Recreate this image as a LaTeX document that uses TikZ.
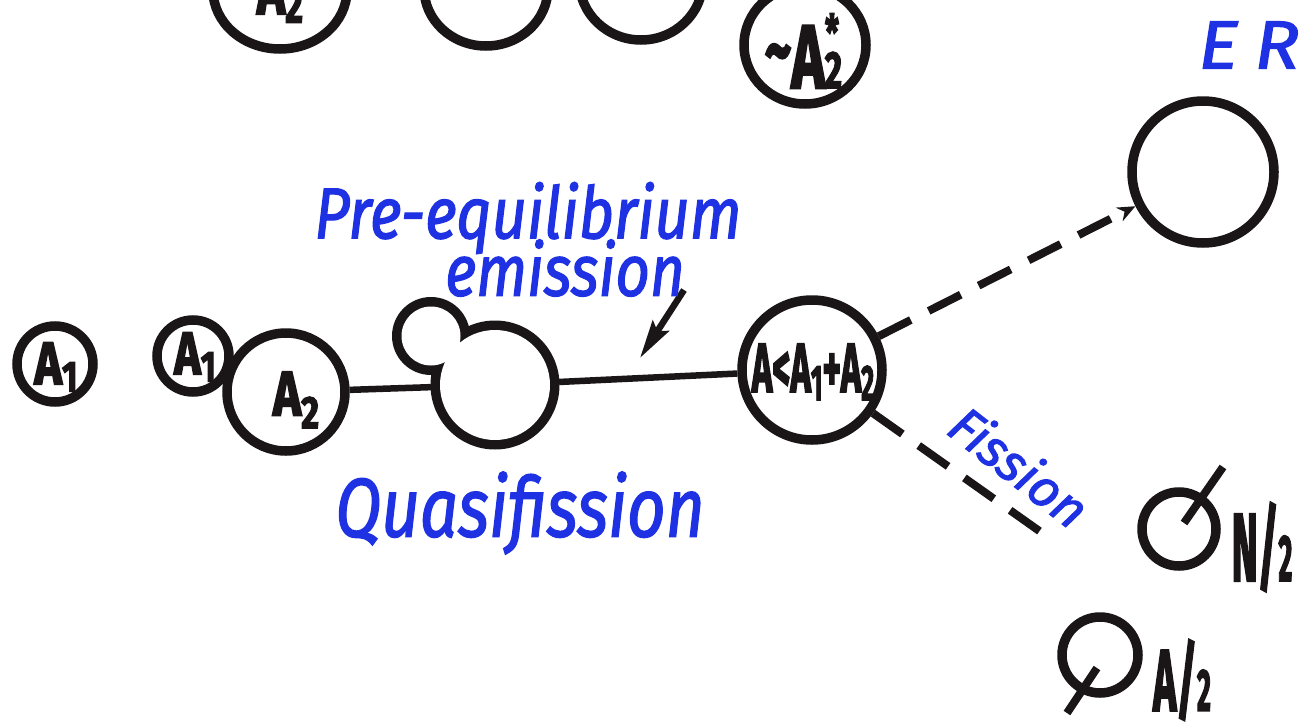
\documentclass[tikz,border=0pt]{standalone}
\usepackage{fontspec}
\usetikzlibrary{arrows.meta,calc,shapes.geometric}
\newfontfamily\inkfont{Fira Sans}[FakeBold=3]
\newfontfamily\penfont{Fira Sans}[FakeBold=1.8]
\definecolor{ink}{RGB}{26,22,24}
\definecolor{penblue}{RGB}{30,50,228}
% lowered, slightly smaller index as in hand lettering
\newcommand\lowix[1]{\raisebox{-0.12em}{\scalebox{0.72}{#1}}}
\newcommand\baseix[1]{\scalebox{0.68}{#1}}

\begin{document}
\begin{tikzpicture}[x=1pt,y=-1pt,
  nucleus/.style={circle,draw=ink,line width=9.5pt,inner sep=0pt,minimum size=#1},
  blob/.style={ellipse,draw=ink,line width=9.5pt,inner sep=0pt},
  bond/.style={draw=ink,line width=6.5pt},
  dashbond/.style={draw=ink,line width=8pt,dash pattern=on 36pt off 20pt},
  tickline/.style={draw=ink,line width=8pt},
  tag/.style={text=ink,font=\inkfont\bfseries\fontsize{60}{60}\selectfont,inner sep=0pt},
  pen/.style={text=penblue,font=\penfont\itshape\fontsize{#1}{#1}\selectfont,inner sep=0pt},
]
\useasboundingbox (0,0) rectangle (1310,723);
\fill[white] (0,0) rectangle (1310,723);
\clip (0,0) rectangle (1310,723);

% --- upper row (cut by the top edge) ---
\node[blob,minimum width=134pt,minimum height=118pt] (t1) at (280,-10) {};
\node[tag,anchor=base] (t1l) at (280,14) {\scalebox{0.8}[1.2]{A\lowix{2}}};
\node[blob,minimum width=124pt,minimum height=116pt] (t2) at (486,-12) {};
\node[blob,minimum width=124pt,minimum height=120pt] (t3) at (641,-20) {};
\node[blob,minimum width=122pt,minimum height=118pt] (t4) at (805,45) {};
\node[tag,anchor=base] (t4l) at (802,88) {\scalebox{0.95}[1.5]{\raisebox{0.12em}{\scalebox{0.9}{\textasciitilde}}A\scalebox{0.58}{2}\hspace{-0.3em}\raisebox{0.42em}{\scalebox{0.55}{*}}}};

% --- main row ---
\node[nucleus=76pt] (p1) at (55,364) {};
\node[tag] at (56,367) {\scalebox{0.78}[1]{A\lowix{1}}};

\node[nucleus=72pt] (p2) at (193,356) {};
\node[tag] at (195,357) {\scalebox{0.75}[1]{A\lowix{1}}};

\node[nucleus=118pt] (tg) at (286,392) {};
\node[tag] at (296,400) {\scalebox{0.8}[1.05]{A\raisebox{-0.2em}{\scalebox{0.72}{2}}}};

% dinuclear shape with emitted lobe
\node[circle,inner sep=0pt,minimum size=128pt] (qf) at (495,385) {};
\coordinate (lobe) at (431,336);
\fill[ink] (qf.center) circle (64.5) (lobe) circle (39);
\fill[white] (qf.center) circle (55) (lobe) circle (29.5);

\node[nucleus=140pt] (cn) at (812,370) {};
\node[tag] at (813,372) {\scalebox{0.58}[1.15]{A<A\lowix{1}+A\lowix{2}}};

\draw[bond] (tg) -- (qf);
\draw[bond] (qf) -- (cn);

% pre-equilibrium particle
\coordinate (pe-tail) at (684,290);
\coordinate (pe-head) at (640,358);
\draw[ink,line width=6.5pt,-{Stealth[length=38pt,width=19pt,inset=6pt]}] (pe-tail) -- (pe-head);

% evaporation residue
\node[nucleus=142pt] (er) at (1203,172) {};
\draw[dashbond,-{Stealth[length=18pt,width=15pt]}] (cn) -- (er);

% fission fragments
\coordinate (fis-end) at (1045,535);
\draw[dashbond] (cn) -- (fis-end);

\node[nucleus=74pt] (n2) at (1179,529) {};
\coordinate (n2-in) at (1184,523);
\coordinate (n2-out) at (1223,467);
\draw[tickline] (n2-in) -- (n2-out);
\node[tag] at (1262,547) {\scalebox{0.66}[1.6]{N/\baseix{2}}};

\node[nucleus=76pt] (a2) at (1100,655) {};
\coordinate (a2-in) at (1097,668);
\coordinate (a2-out) at (1067,713);
\draw[tickline] (a2-in) -- (a2-out);
\node[tag] at (1182,680) {\scalebox{0.66}[1.45]{A/\baseix{2}}};

% --- hand-written labels ---
\node[pen=68] (lab-er) at (1249,45) {\scalebox{1.1}[1]{E\hspace{0.22em}R}};
\node[pen=60] (lab-pe) at (528,218) {\scalebox{1.02}[1.2]{Pre-equilibrium}};
\node[pen=60] (lab-em) at (565,268) {\scalebox{1.0}[1.2]{emission}};
\node[pen=64] (lab-qf) at (520,513) {\scalebox{1.05}[1.3]{Quasifission}};
\node[pen=52,rotate=-38] (lab-fi) at (1020,466) {Fission};
\end{tikzpicture}
\end{document}
